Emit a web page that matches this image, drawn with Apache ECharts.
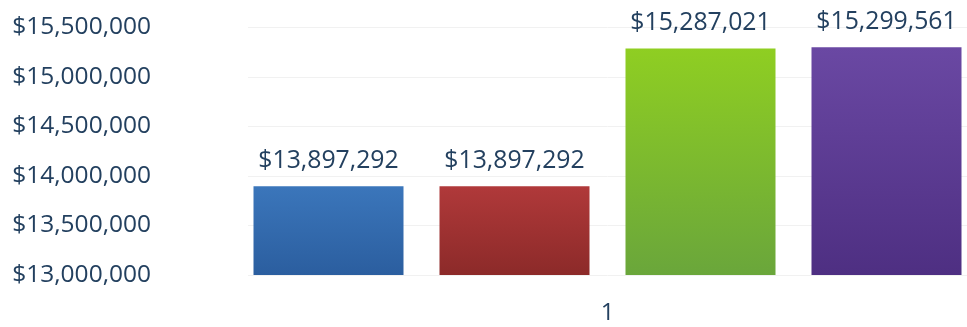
<!DOCTYPE html>
<html>
<head>
<meta charset="utf-8">
<script src="https://cdn.jsdelivr.net/npm/echarts@6/dist/echarts.min.js"></script>
<style>html,body{margin:0;padding:0;background:#fff;}#c{width:967px;height:327px;}</style>
</head>
<body>
<div id="c"></div>
<script>
const categories = ['1'];
const seriesA = [13897292];
const seriesB = [13897292];
const seriesC = [15287021];
const seriesD = [15299561];
const yTicks = [13000000, 13500000, 14000000, 14500000, 15000000, 15500000];

const fmt = v => '$' + Math.round(v).toString().replace(/\B(?=(\d{3})+(?!\d))/g, ',');
const txt = '#23405f';
const font = 'Open Sans';

function grad(top, bottom) {
  return new echarts.graphic.LinearGradient(0, 0, 0, 1, [
    { offset: 0, color: top }, { offset: 1, color: bottom }
  ]);
}
function mk(name, data, top, bottom) {
  return {
    name: name, type: 'bar', data: data, barWidth: 150, barGap: '24%',
    itemStyle: { color: grad(top, bottom) },
    label: { show: true, position: 'top', distance: 13, formatter: p => fmt(p.value),
      color: txt, fontFamily: font, fontSize: 24.8 }
  };
}

const chart = echarts.init(document.getElementById('c'));
chart.setOption({
  animation: false,
  grid: { left: 248, right: 0, top: 27.5, bottom: 52 },
  xAxis: {
    type: 'category', data: categories,
    axisLine: { show: false }, axisTick: { show: false },
    axisLabel: { color: txt, fontFamily: font, fontSize: 24, margin: 26 }
  },
  yAxis: {
    type: 'value', min: yTicks[0], max: yTicks[yTicks.length - 1], interval: 500000,
    axisLine: { show: false }, axisTick: { show: false },
    splitLine: { lineStyle: { color: '#f1f1f1' } },
    axisLabel: { color: txt, fontFamily: font, fontSize: 24.5, margin: 97, padding: [6, 0, 0, 0], formatter: fmt }
  },
  series: [
    mk('A', seriesA, '#3b76bb', '#2b5e9f'),
    mk('B', seriesB, '#b0393a', '#8c2a29'),
    mk('C', seriesC, '#8fce22', '#6aa63b'),
    mk('D', seriesD, '#6a48a3', '#4e2f82')
  ]
});
</script>
</body>
</html>
